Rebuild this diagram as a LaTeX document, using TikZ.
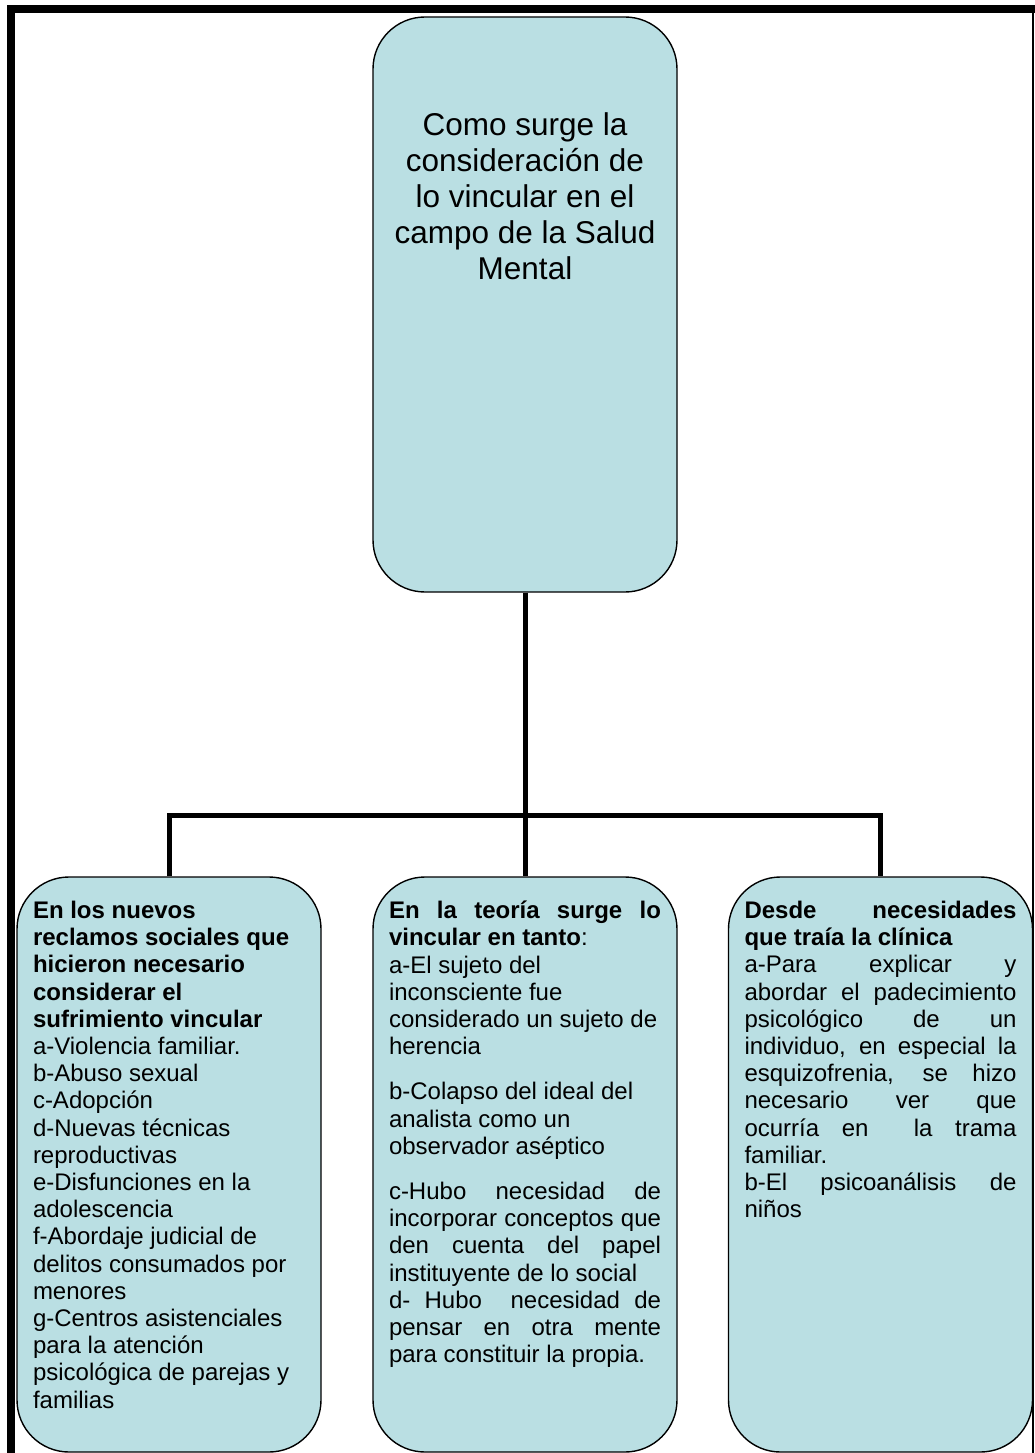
\documentclass[tikz,border=0pt]{standalone}
\usepackage{fontspec}
\setmainfont{Liberation Sans}
\usepackage{xcolor}
\usetikzlibrary{calc}
\definecolor{celeste}{RGB}{186,223,227}
\tikzset{
  cajon/.style = {draw, line width=1.4pt, fill=celeste,
    rounded corners=52pt, inner xsep=16pt, inner ysep=0pt},
  conector/.style = {line width=5pt},
  marco/.style = {line width=8pt}
}
\newcommand{\letragrande}{\fontsize{31.5}{36}\selectfont}
\newcommand{\letrachica}{\fontsize{24}{27.2}\selectfont}
% box text: #1 = font, #2 = space above, #3 = text
\newcommand{\caja}[3]{\parbox[c][575pt][t]{272pt}{#1\vspace*{#2}#3}}
% one justified line
\newcommand{\just}[1]{\makebox[\linewidth][s]{#1}}

\begin{document}
\begin{tikzpicture}[x=1pt,y=-1pt]
\useasboundingbox (0,0) rectangle (1035,1453);

\def\fila{1164.5}

% Frame
\draw[marco] (11,1453) -- (11,9) -- (1035,9);
\draw[line width=1.5pt] (1033,13) -- (1033,1453);

% The boxes
\node[cajon] (raiz) at (525,304.5)
  {\caja{\letragrande\centering}{95.5pt}{Como surge la\\
   consideración de\\ lo vincular en el\\ campo de la Salud\\ Mental}};

\node[cajon] (social) at (169,\fila)
  {\caja{\letrachica}{24pt}{\textbf{En los nuevos\\ reclamos sociales que\\
   hicieron necesario\\ considerar el\\ sufrimiento vincular}\\
   a-Violencia familiar.\\ b-Abuso sexual\\ c-Adopción\\
   d-Nuevas técnicas\\ reproductivas\\ e-Disfunciones en la\\
   adolescencia\\ f-Abordaje judicial de\\ delitos consumados por\\
   menores\\ g-Centros asistenciales\\ para la atención\\
   psicológica de parejas y\\ familias}};

\node[cajon] (teoria) at (525,\fila)
  {\caja{\letrachica}{24pt}{\just{\textbf{En la teoría surge lo}}\\
   \textbf{vincular en tanto}:\\ a-El sujeto del\\ inconsciente fue\\
   considerado un sujeto de\\ herencia\par\vspace{18pt}
   b-Colapso del ideal del\\ analista como un\\
   observador aséptico\par\vspace{18pt}
   \just{c-Hubo necesidad de}\\ \just{incorporar conceptos que}\\
   \just{den cuenta del papel}\\ instituyente de lo social\\
   \just{d- Hubo\ \ necesidad de}\\ \just{pensar en otra mente}\\
   para constituir la propia.}};

\node[cajon] (clinica) at (880.5,\fila)
  {\caja{\letrachica}{24pt}{\just{\textbf{Desde necesidades}}\\
   \textbf{que traía la clínica}\\ \just{a-Para explicar y}\\
   \just{abordar el padecimiento}\\ \just{psicológico de un}\\
   \just{individuo, en especial la}\\ \just{esquizofrenia, se hizo}\\
   \just{necesario ver que}\\ \just{ocurría en\ \ la trama}\\
   familiar.\\ \just{b-El psicoanálisis de}\\ niños}};

% Connectors
\coordinate (barra) at (525,815);
\draw[conector] (raiz.south) -- (barra);
\draw[conector] (social.north) |- (barra) -| (clinica.north);
\draw[conector] (barra) -- (teoria.north);
\end{tikzpicture}
\end{document}
